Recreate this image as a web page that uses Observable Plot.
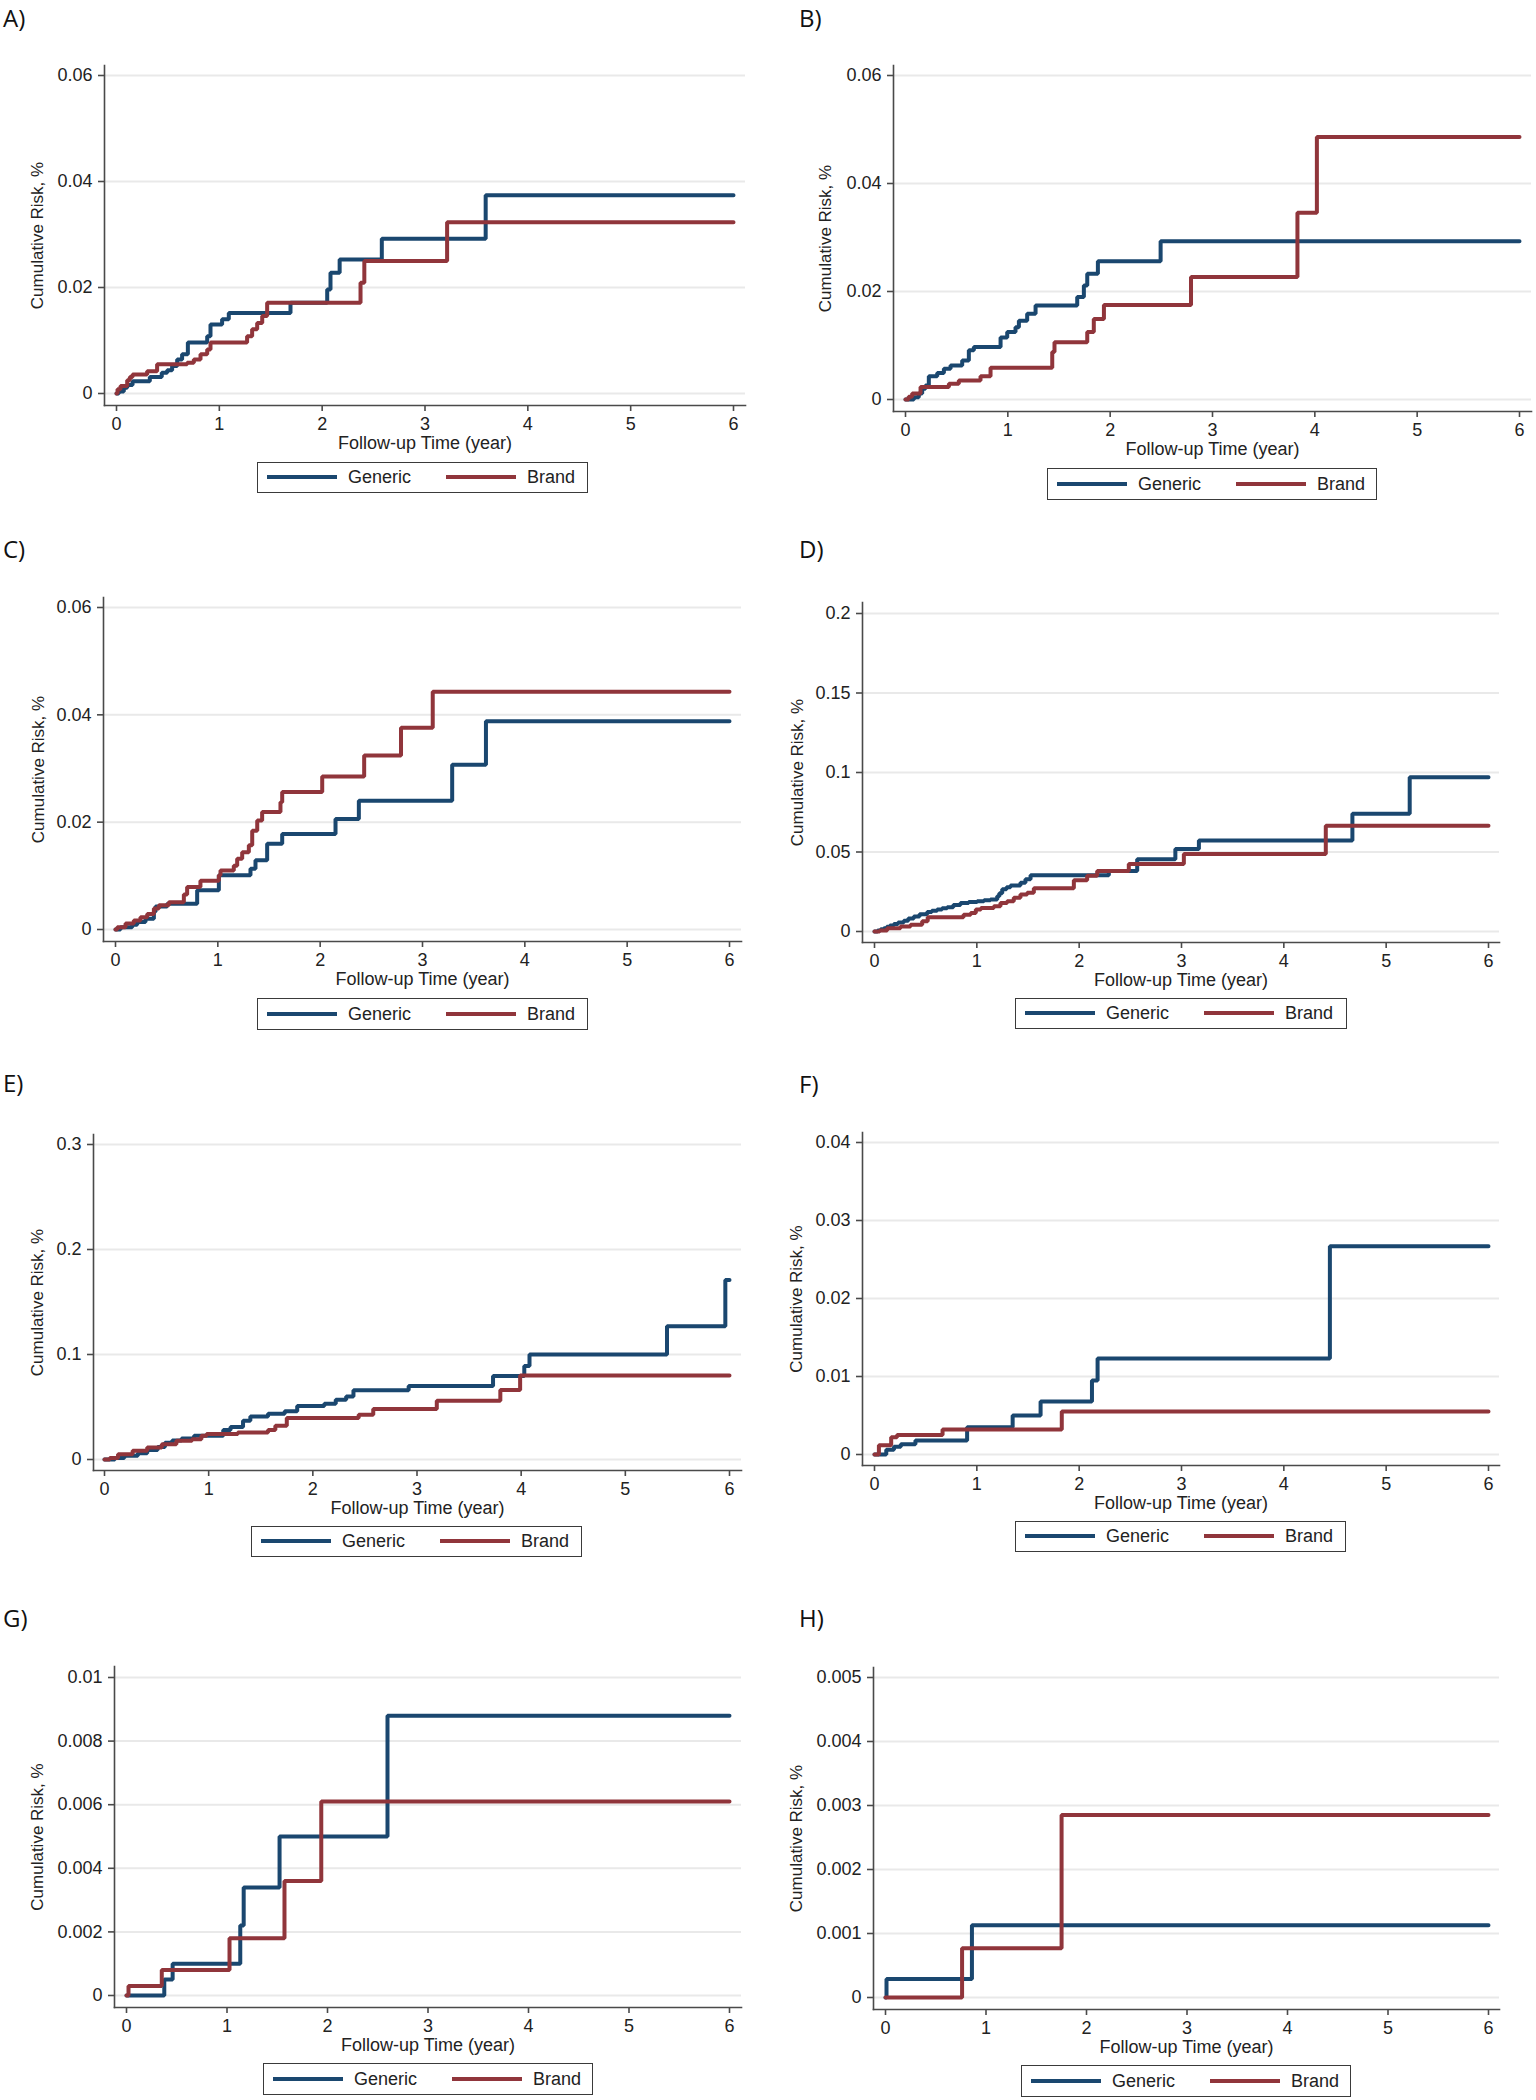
<!DOCTYPE html>
<html>
<head>
<meta charset="utf-8">
<script src="https://cdn.jsdelivr.net/npm/d3@7"></script>
<script src="https://cdn.jsdelivr.net/npm/@observablehq/plot@0.6"></script>
<style>
  html, body { margin: 0; padding: 0; background: #fff; }
  #page { position: relative; width: 1536px; height: 2100px; background: #fff; overflow: hidden; }
  .panel-svg { position: absolute; }
  .panel-label { position: absolute; font-family: "Open Sans", "Noto Sans", sans-serif; font-size: 24px; line-height: 24px; color: #111; }
  .legend { position: absolute; box-sizing: border-box; border: 1.5px solid #3a3a3a; background: #fff;
            font-family: "Liberation Sans", Arial, sans-serif; font-size: 18px; color: #222; }
  .legend .sw { position: absolute; height: 4px; }
  .legend .tx { position: absolute; line-height: 18px; white-space: nowrap; }
</style>
</head>
<body>
<div id="page"></div>
<script>
// ---------------- data (time in years, cumulative risk in %) ----------------
const seriesNames = ["Generic", "Brand"];
const xTicks = [0, 1, 2, 3, 4, 5, 6];
const xTitle = "Follow-up Time (year)";
const yTitle = "Cumulative Risk, %";

const yTicksA = [0, 0.02, 0.04, 0.06];
const yTicksB = [0, 0.02, 0.04, 0.06];
const yTicksC = [0, 0.02, 0.04, 0.06];
const yTicksD = [0, 0.05, 0.1, 0.15, 0.2];
const yTicksE = [0, 0.1, 0.2, 0.3];
const yTicksF = [0, 0.01, 0.02, 0.03, 0.04];
const yTicksG = [0, 0.002, 0.004, 0.006, 0.008, 0.01];
const yTicksH = [0, 0.001, 0.002, 0.003, 0.004, 0.005];

const A_generic = [[0,0],[0.023,0.0004],[0.071,0.0011],[0.104,0.0016],[0.156,0.0023],[0.324,0.0031],[0.44,0.0039],[0.493,0.0044],[0.541,0.0052],[0.59,0.0064],[0.638,0.0074],[0.694,0.0096],[0.882,0.0108],[0.914,0.013],[1.027,0.014],[1.092,0.0152],[1.692,0.0171],[2.049,0.0196],[2.081,0.0228],[2.17,0.0253],[2.58,0.0292],[3.59,0.0374],[6,0.0374]];
const A_brand = [[0,0],[0.01,0.0008],[0.039,0.0014],[0.104,0.0025],[0.13,0.0031],[0.156,0.0036],[0.298,0.0042],[0.395,0.0055],[0.687,0.0058],[0.752,0.0064],[0.817,0.0074],[0.882,0.0083],[0.914,0.0096],[1.27,0.0108],[1.319,0.0121],[1.368,0.0133],[1.417,0.0146],[1.465,0.0171],[2.373,0.0209],[2.41,0.025],[3.215,0.0323],[6,0.0323]];

const B_generic = [[0,0],[0.082,0.0004],[0.13,0.0011],[0.163,0.002],[0.195,0.0026],[0.228,0.0043],[0.31,0.0049],[0.375,0.0057],[0.44,0.0063],[0.554,0.0072],[0.619,0.0091],[0.668,0.0097],[0.929,0.0115],[0.994,0.0125],[1.075,0.0134],[1.108,0.0146],[1.189,0.0159],[1.271,0.0174],[1.678,0.019],[1.743,0.0211],[1.776,0.0233],[1.88,0.0256],[2.493,0.0293],[6,0.0293]];
const B_brand = [[0,0],[0.03,0.0005],[0.065,0.0011],[0.147,0.0023],[0.424,0.0029],[0.521,0.0035],[0.733,0.0043],[0.831,0.0059],[1.434,0.0088],[1.456,0.0106],[1.776,0.0125],[1.84,0.0149],[1.939,0.0175],[2.79,0.0227],[3.83,0.0346],[4.02,0.0486],[6,0.0486]];

const C_generic = [[0,0],[0.049,0.0004],[0.163,0.0009],[0.212,0.0014],[0.293,0.002],[0.375,0.0033],[0.391,0.0043],[0.505,0.0048],[0.798,0.0073],[1.01,0.0101],[1.319,0.0113],[1.368,0.0129],[1.482,0.016],[1.629,0.0178],[2.15,0.0206],[2.378,0.024],[3.29,0.0307],[3.62,0.0388],[6,0.0388]];
const C_brand = [[0,0],[0.017,0.0004],[0.098,0.0011],[0.179,0.0017],[0.244,0.0023],[0.31,0.0029],[0.375,0.0039],[0.424,0.0045],[0.521,0.0051],[0.668,0.0065],[0.7,0.0079],[0.83,0.0091],[1.01,0.0101],[1.026,0.011],[1.156,0.0119],[1.189,0.0132],[1.238,0.0144],[1.303,0.0157],[1.336,0.0184],[1.385,0.0203],[1.433,0.0219],[1.612,0.0237],[1.629,0.0256],[2.02,0.0285],[2.43,0.0324],[2.79,0.0376],[3.1,0.0443],[6,0.0443]];

const D_generic = [[0,0],[0.03,0.0007],[0.06,0.0014],[0.091,0.0021],[0.12,0.003],[0.15,0.0038],[0.189,0.0047],[0.23,0.0056],[0.286,0.0068],[0.33,0.0081],[0.384,0.0095],[0.44,0.0108],[0.515,0.0123],[0.56,0.013],[0.612,0.0138],[0.66,0.0146],[0.71,0.0153],[0.77,0.0166],[0.84,0.018],[0.92,0.0186],[1.003,0.0191],[1.07,0.0196],[1.133,0.0201],[1.199,0.0222],[1.22,0.024],[1.248,0.0265],[1.29,0.0278],[1.329,0.029],[1.426,0.0307],[1.475,0.0328],[1.525,0.0354],[2.29,0.0381],[2.567,0.0455],[2.94,0.0519],[3.17,0.0572],[4.67,0.074],[5.23,0.097],[6,0.097]];
const D_brand = [[0,0],[0.05,0.0007],[0.124,0.0021],[0.254,0.0032],[0.352,0.0042],[0.466,0.0064],[0.52,0.0089],[0.87,0.0106],[0.94,0.0117],[0.99,0.0138],[1.04,0.0148],[1.166,0.0159],[1.231,0.018],[1.296,0.0191],[1.361,0.0212],[1.426,0.0233],[1.492,0.0244],[1.557,0.0272],[1.948,0.0322],[2.078,0.035],[2.176,0.0381],[2.485,0.0424],[3.023,0.0487],[4.41,0.0665],[6,0.0665]];

const E_generic = [[0,0],[0.1,0.0015],[0.19,0.0035],[0.32,0.006],[0.41,0.009],[0.51,0.012],[0.58,0.016],[0.65,0.018],[0.74,0.02],[0.86,0.0226],[1.14,0.028],[1.21,0.031],[1.33,0.037],[1.4,0.041],[1.57,0.0436],[1.73,0.046],[1.85,0.051],[2.11,0.053],[2.22,0.057],[2.32,0.06],[2.39,0.066],[2.92,0.0701],[3.73,0.0796],[4.03,0.089],[4.08,0.1],[5.4,0.127],[5.96,0.171],[6,0.171]];
const E_brand = [[0,0],[0.05,0.0015],[0.13,0.005],[0.27,0.0083],[0.41,0.0115],[0.55,0.0146],[0.69,0.0178],[0.84,0.0194],[0.93,0.0226],[0.98,0.0242],[1.28,0.0258],[1.57,0.028],[1.64,0.0322],[1.75,0.0395],[2.44,0.0427],[2.58,0.0481],[3.19,0.056],[3.8,0.0662],[3.99,0.0799],[6,0.0799]];

const F_generic = [[0,0],[0.115,0.0006],[0.19,0.001],[0.257,0.0013],[0.4,0.0018],[0.905,0.0035],[1.35,0.005],[1.623,0.0068],[2.125,0.0095],[2.18,0.0123],[4.45,0.0267],[6,0.0267]];
const F_brand = [[0,0],[0.043,0.0012],[0.163,0.0022],[0.22,0.0025],[0.665,0.0032],[1.83,0.0055],[6,0.0055]];

const G_generic = [[0,0],[0.376,0.0005],[0.459,0.001],[1.132,0.0022],[1.166,0.0034],[1.523,0.005],[2.597,0.0088],[6,0.0088]];
const G_brand = [[0,0],[0.02,0.0003],[0.351,0.0008],[1.025,0.0018],[1.572,0.0036],[1.938,0.0061],[6,0.0061]];

const H_generic = [[0,0],[0.01,0.00029],[0.86,0.00113],[6,0.00113]];
const H_brand = [[0,0],[0.762,0.00077],[1.752,0.00285],[6,0.00285]];

// ---------------- styling / layout ----------------
const colors = { Generic: "#1a476f", Brand: "#90353b" };
const panels = [
  {id: "A", generic: A_generic, brand: A_brand, yTicks: yTicksA, left: 0,   top: 0,    h: 458, mL: 104, mR: 23, mT: 65, mB: 53, iL: 12, iR: 12, iT: 10, iB: 12, ytDx: -67, legend: [257, 462, 331, 31], label: [3, 27]},
  {id: "B", generic: B_generic, brand: B_brand, yTicks: yTicksB, left: 768, top: 0,    h: 464, mL: 125, mR: 5,  mT: 65, mB: 53, iL: 12, iR: 12, iT: 10, iB: 12, ytDx: -68, legend: [1047, 468, 330, 32], label: [799, 27]},
  {id: "C", generic: C_generic, brand: C_brand, yTicks: yTicksC, left: 0,   top: 520,  h: 474, mL: 103, mR: 27, mT: 77, mB: 53, iL: 12, iR: 12, iT: 10, iB: 12, ytDx: -65, legend: [257, 998, 331, 32], label: [3, 558]},
  {id: "D", generic: D_generic, brand: D_brand, yTicks: yTicksD, left: 768, top: 520,  h: 474, mL: 94,  mR: 37, mT: 82, mB: 52, iL: 12, iR: 11, iT: 11, iB: 11, ytDx: -65, legend: [1015, 998, 332, 31], label: [799, 558]},
  {id: "E", generic: E_generic, brand: E_brand, yTicks: yTicksE, left: 0,   top: 1050, h: 472, mL: 93,  mR: 27, mT: 84, mB: 52, iL: 11, iR: 12, iT: 10, iB: 11, ytDx: -56, legend: [251, 1526, 331, 31], label: [3, 1092]},
  {id: "F", generic: F_generic, brand: F_brand, yTicks: yTicksF, left: 768, top: 1050, h: 467, mL: 94,  mR: 37, mT: 82, mB: 52, iL: 12, iR: 11, iT: 10, iB: 11, ytDx: -66, legend: [1015, 1521, 331, 31], label: [799, 1093]},
  {id: "G", generic: G_generic, brand: G_brand, yTicks: yTicksG, left: 0,   top: 1580, h: 479, mL: 114, mR: 27, mT: 86, mB: 52, iL: 12, iR: 12, iT: 11, iB: 12, ytDx: -77, legend: [263, 2063, 330, 32], label: [3, 1627]},
  {id: "H", generic: H_generic, brand: H_brand, yTicks: yTicksH, left: 768, top: 1580, h: 481, mL: 105, mR: 37, mT: 87, mB: 52, iL: 12, iR: 11, iT: 10, iB: 12, ytDx: -77, legend: [1021, 2065, 330, 32], label: [799, 1627]}
];

const page = document.getElementById("page");
const axisColor = "#4a4a4a";

for (const p of panels) {
  const yMax = p.yTicks[p.yTicks.length - 1];
  const chart = Plot.plot({
    width: 768,
    height: p.h,
    marginLeft: p.mL, marginRight: p.mR, marginTop: p.mT, marginBottom: p.mB,
    x: {domain: [0, 6], insetLeft: p.iL, insetRight: p.iR},
    y: {domain: [0, yMax], insetTop: p.iT, insetBottom: p.iB},
    style: {fontFamily: "'Liberation Sans', Arial, sans-serif", fontSize: "18px", color: "#222", background: "transparent", overflow: "visible"},
    marks: [
      Plot.gridY(p.yTicks, {stroke: "#e9e9e9", strokeOpacity: 1, strokeWidth: 2}),
      Plot.frame({anchor: "left", stroke: axisColor, strokeWidth: 1.6}),
      Plot.frame({anchor: "bottom", stroke: axisColor, strokeWidth: 1.6}),
      Plot.axisY(p.yTicks, {tickSize: 6, tickPadding: 6, tickFormat: d => String(d), label: null, stroke: axisColor, strokeWidth: 1.6, fill: "#222"}),
      Plot.axisX(xTicks, {tickSize: 6, tickPadding: 6, tickFormat: d => String(d), label: null, stroke: axisColor, strokeWidth: 1.6, fill: "#222"}),
      Plot.line(p.generic, {x: d => d[0], y: d => d[1], curve: "step-after", stroke: colors.Generic, strokeWidth: 4, strokeLinejoin: "miter"}),
      Plot.line(p.brand, {x: d => d[0], y: d => d[1], curve: "step-after", stroke: colors.Brand, strokeWidth: 4, strokeLinejoin: "miter"}),
      Plot.text([yTitle], {text: d => d, frameAnchor: "left", dx: p.ytDx, rotate: -90, textAnchor: "middle", lineAnchor: "middle", fontSize: 17, fill: "#222"}),
      Plot.text([xTitle], {text: d => d, frameAnchor: "bottom", dy: 38, textAnchor: "middle", lineAnchor: "middle", fontSize: 18, fill: "#222"})
    ]
  });
  chart.classList.add("panel-svg");
  chart.style.left = p.left + "px";
  chart.style.top = p.top + "px";
  page.appendChild(chart);

  // panel letter
  const lab = document.createElement("div");
  lab.className = "panel-label";
  lab.textContent = p.id + ")";
  lab.style.left = p.label[0] + "px";
  lab.style.top = (p.label[1] - 21) + "px";
  page.appendChild(lab);

  // legend box
  const [lx, ly, lw, lh] = p.legend;
  const lg = document.createElement("div");
  lg.className = "legend";
  lg.style.left = lx + "px"; lg.style.top = ly + "px";
  lg.style.width = lw + "px"; lg.style.height = lh + "px";
  const items = [[seriesNames[0], 9, 90], [seriesNames[1], 188, 269]];
  for (const [name, swx, txx] of items) {
    const sw = document.createElement("div");
    sw.className = "sw";
    sw.style.left = swx + "px"; sw.style.width = "70px";
    sw.style.top = (lh / 2 - 3.5) + "px";
    sw.style.background = colors[name];
    lg.appendChild(sw);
    const tx = document.createElement("div");
    tx.className = "tx";
    tx.style.left = txx + "px";
    tx.style.top = (lh / 2 - 10.5) + "px";
    tx.textContent = name;
    lg.appendChild(tx);
  }
  page.appendChild(lg);
}
</script>
</body>
</html>
